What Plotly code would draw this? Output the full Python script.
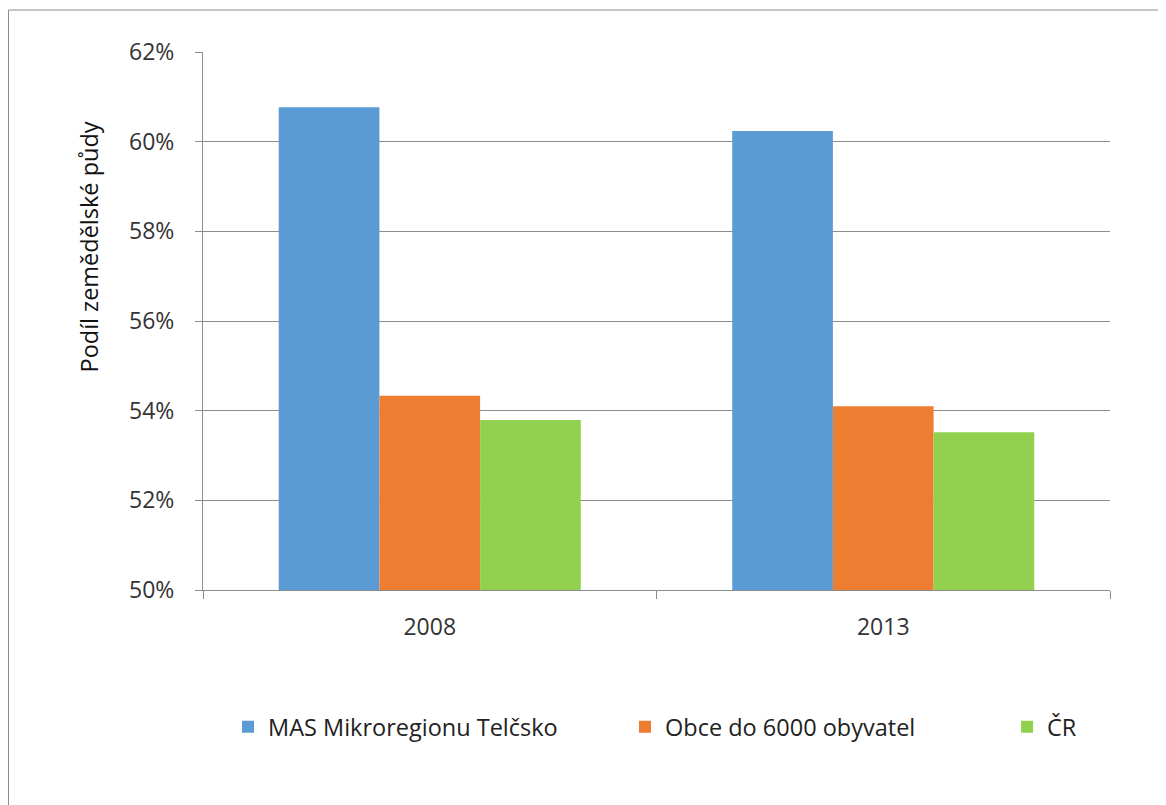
import plotly.graph_objects as go

years = ["2008", "2013"]
series_names = ["MAS Mikroregionu Telčsko", "Obce do 6000 obyvatel", "ČR"]
mas = [0.6077, 0.6024]
obce = [0.5433, 0.5410]
cr = [0.5379, 0.5352]
colors = ["#5B9BD5", "#ED7D31", "#92D050"]
y_title = "Podíl zemědělské půdy"

W, H = 1166, 805
L, R, T, B = 195, 64, 44, 223
pw, ph = W - L - R, H - T - B

legend_ids = ["legend", "legend2", "legend3"]
legend_x = [0.0276, 0.4653, 0.8865]

fig = go.Figure()
for name, vals, c, lg in zip(series_names, [mas, obce, cr], colors, legend_ids):
    fig.add_trace(go.Bar(x=years, y=vals, name=name, legend=lg,
                         marker=dict(color=c, line=dict(width=0))))

font = "Open Sans, Noto Sans, sans-serif"
leg_common = dict(orientation="h", xanchor="left", y=-0.2546, yanchor="middle",
                  font=dict(size=23.5, color="#222222"), itemwidth=30,
                  bgcolor="rgba(0,0,0,0)")
fig.update_layout(
    width=W, height=H,
    margin=dict(l=L, r=R, t=T, b=B, autoexpand=False),
    paper_bgcolor="white", plot_bgcolor="white",
    barmode="group", bargap=0.334, bargroupgap=0,
    font=dict(family=font, size=23, color="#333333"),
    showlegend=True,
    legend=dict(x=legend_x[0], **leg_common),
    legend2=dict(x=legend_x[1], **leg_common),
    legend3=dict(x=legend_x[2], **leg_common),
    yaxis=dict(range=[0.50, 0.62], dtick=0.02, tickformat=".0%",
               showgrid=True, gridcolor="#8c8c8c", gridwidth=1,
               showline=True, linecolor="#8c8c8c", linewidth=1,
               ticks="outside", ticklen=7, tickcolor="#8c8c8c",
               ticklabelstandoff=16, zeroline=False),
    xaxis=dict(showline=True, linecolor="#8c8c8c", linewidth=1,
               ticks="outside", tickson="boundaries", ticklen=8, tickcolor="#8c8c8c",
               ticklabelstandoff=16, showgrid=False),
)
fig.add_annotation(text=y_title, textangle=-90, showarrow=False,
                   xref="paper", yref="paper",
                   x=(80 - L) / pw, y=(ph + T - 239.5) / ph,
                   xanchor="center", yanchor="middle",
                   font=dict(size=23.5, color="#111111"))
fig.add_shape(type="rect", xref="paper", yref="paper",
              x0=(0.5 - L) / pw, x1=(W + 20 - L) / pw,
              y0=-(H + 20 - T - ph) / ph, y1=(ph + T - 2) / ph,
              line=dict(color="#8c8c8c", width=1), fillcolor="rgba(0,0,0,0)", layer="below")

fig.write_html("out.html")
